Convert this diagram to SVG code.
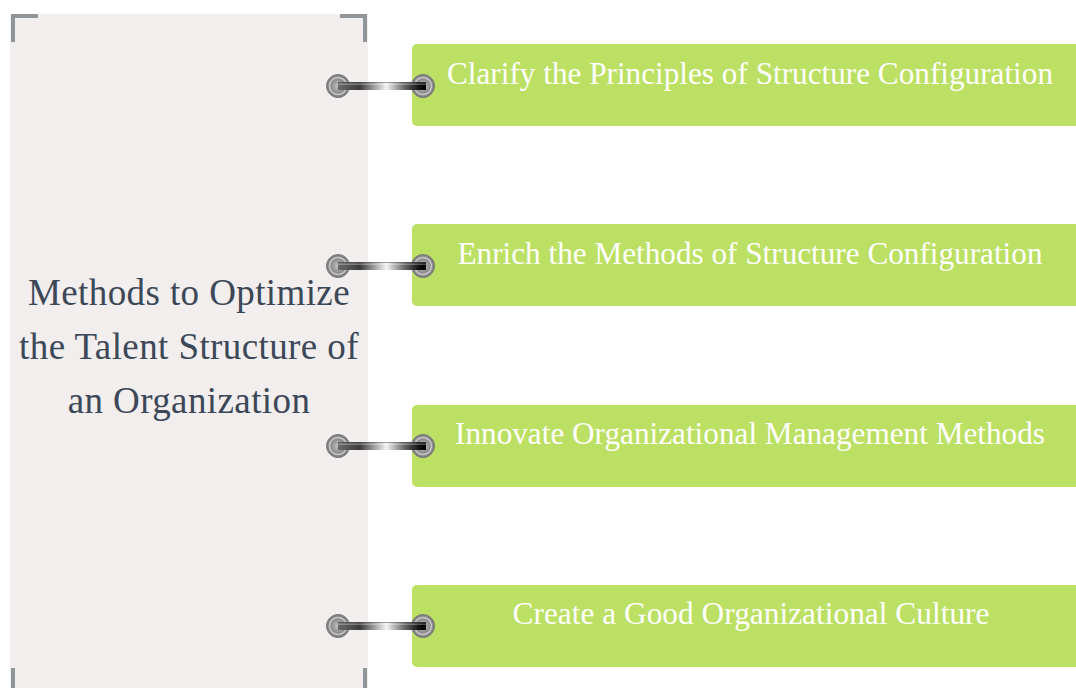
<svg xmlns="http://www.w3.org/2000/svg" width="1076" height="688" viewBox="0 0 1076 688">
  <style>
    .panel { fill: #f1eeed; }
    .bracket { fill: none; stroke: #8f9598; stroke-width: 4; stroke-linecap: butt; stroke-linejoin: miter; }
    .title { font-family: "Liberation Serif", "Times New Roman", serif; font-size: 37px; fill: #3c4758; text-anchor: middle; letter-spacing: 0.4px; }
    .box { fill: #bbe063; }
    .label { font-family: "Liberation Serif", "Times New Roman", serif; font-size: 31px; fill: #ffffff; text-anchor: middle; }
  </style>
  <defs>
    <linearGradient id="barShade" x1="0" y1="0" x2="1" y2="0">
      <stop offset="0" stop-color="#6a6a6a"/>
      <stop offset="0.25" stop-color="#3c3c3c"/>
      <stop offset="0.55" stop-color="#f4f4f4"/>
      <stop offset="0.75" stop-color="#6a6a6a"/>
      <stop offset="0.92" stop-color="#111111"/>
      <stop offset="1" stop-color="#000000"/>
    </linearGradient>
    <radialGradient id="ringShade" cx="0.5" cy="0.5" r="0.5">
      <stop offset="0" stop-color="#c4c4c4"/>
      <stop offset="0.4" stop-color="#a0a0a0"/>
      <stop offset="0.62" stop-color="#8a8a8a"/>
      <stop offset="0.72" stop-color="#d2d2d2"/>
      <stop offset="0.84" stop-color="#8c8c8c"/>
      <stop offset="1" stop-color="#747474"/>
    </radialGradient>
    <g id="ring">
      <circle r="11.5" fill="url(#ringShade)"/>
      <circle r="11.5" fill="none" stroke="#7a7a7a" stroke-width="1"/>
    </g>
    <g id="link">
      <use href="#ring" x="0" y="0"/>
      <use href="#ring" x="85" y="0"/>
      <rect x="0" y="-4" width="88" height="8" fill="url(#barShade)"/>
      <rect x="0" y="-4" width="88" height="1" fill="#555555" opacity="0.5"/>
      <rect x="0" y="-2.5" width="88" height="1.5" fill="#ffffff" opacity="0.3"/>
    </g>
  </defs>

  <!-- main topic panel -->
  <g id="topic">
    <rect class="panel" x="10" y="14" width="358" height="690"/>
    <path class="bracket" d="M13 42 V16 H38"/>
    <path class="bracket" d="M365 42 V16 H340"/>
    <path class="bracket" d="M13 668 V700"/>
    <path class="bracket" d="M365 668 V700"/>
    <text class="title" x="189" y="305">Methods to Optimize</text>
    <text class="title" x="189" y="359">the Talent Structure of</text>
    <text class="title" x="189" y="413">an Organization</text>
  </g>

  <!-- method boxes -->
  <g id="method-1">
    <rect class="box" x="412" y="44" width="680" height="82" rx="5"/>
    <text class="label" x="750" y="84" textLength="606" lengthAdjust="spacingAndGlyphs">Clarify the Principles of Structure Configuration</text>
  </g>
  <g id="method-2">
    <rect class="box" x="412" y="224" width="680" height="82" rx="5"/>
    <text class="label" x="750" y="264" textLength="585" lengthAdjust="spacingAndGlyphs">Enrich the Methods of Structure Configuration</text>
  </g>
  <g id="method-3">
    <rect class="box" x="412" y="405" width="680" height="82" rx="5"/>
    <text class="label" x="750" y="444" textLength="590" lengthAdjust="spacingAndGlyphs">Innovate Organizational Management Methods</text>
  </g>
  <g id="method-4">
    <rect class="box" x="412" y="585" width="680" height="82" rx="5"/>
    <text class="label" x="751" y="624" textLength="477" lengthAdjust="spacingAndGlyphs">Create a Good Organizational Culture</text>
  </g>

  <!-- connectors -->
  <g id="connectors">
    <use href="#link" x="338" y="86"/>
    <use href="#link" x="338" y="266"/>
    <use href="#link" x="338" y="446"/>
    <use href="#link" x="338" y="626"/>
  </g>
</svg>
